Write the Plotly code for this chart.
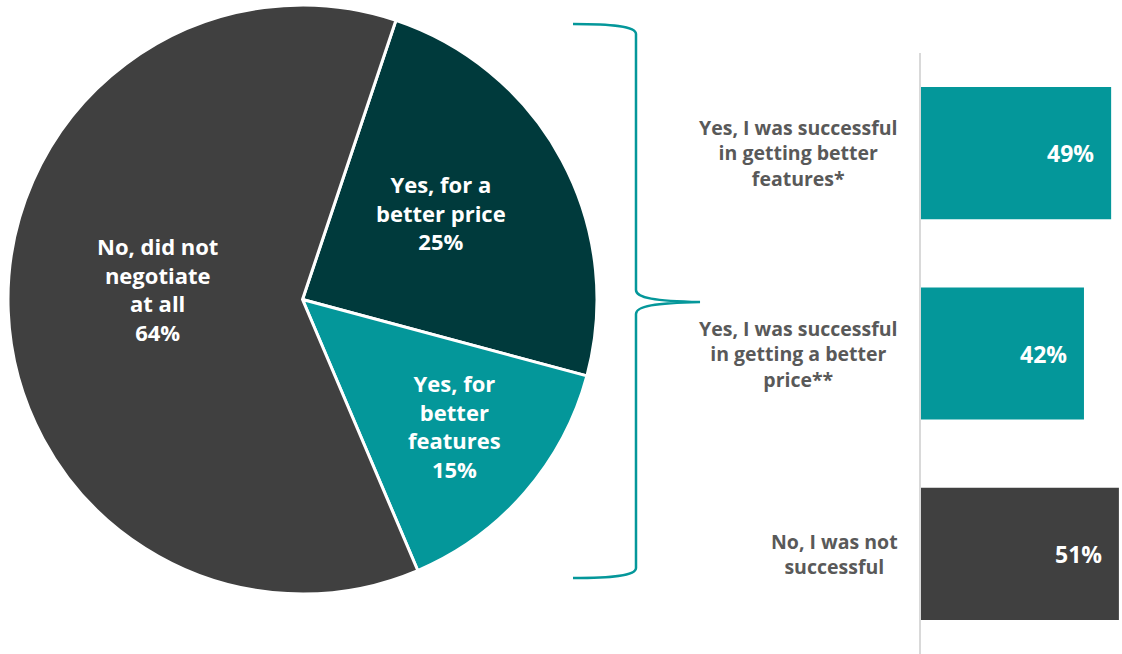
import plotly.graph_objects as go

W, H = 1122, 654

# Pie: did the respondent negotiate?
pie_labels = ["Yes, for a<br>better price", "Yes, for<br>better<br>features", "No, did not<br>negotiate<br>at all"]
pie_values = [25, 15, 64]
pie_colors = ["#003A3C", "#04979A", "#404040"]

# Bars: outcome of the negotiation
bar_categories = [
    "Yes, I was successful<br>in getting better<br>features*",
    "Yes, I was successful<br>in getting a better<br>price**",
    "No, I was not<br>successful",
]
bar_values = [49, 42, 51]
bar_colors = ["#04979A", "#04979A", "#404040"]

FONT = "Open Sans"
TEAL = "#04979A"


def px(x):
    return x / W


def py(y):
    return 1 - y / H


fig = go.Figure()

fig.add_trace(go.Pie(
    labels=pie_labels,
    values=pie_values,
    sort=False,
    direction="clockwise",
    rotation=18.5,
    marker=dict(colors=pie_colors, line=dict(color="white", width=3)),
    textinfo="none",
    hoverinfo="skip",
    showlegend=False,
    domain=dict(x=[px(8), px(597)], y=[py(596), py(3)]),
))

fig.add_trace(go.Bar(
    x=bar_values,
    y=bar_categories,
    orientation="h",
    width=0.66,
    marker=dict(color=bar_colors, line=dict(width=0)),
    hoverinfo="skip",
    showlegend=False,
))

annotations = []

# labels inside the pie slices
pie_label_pos = [(441, 212), (454, 426), (157, 289)]
for lab, val, (x, y) in zip(pie_labels, pie_values, pie_label_pos):
    annotations.append(dict(
        x=px(x), y=py(y), xref="paper", yref="paper",
        text=f"<b>{lab}<br>{val}%</b>", showarrow=False,
        xanchor="center", yanchor="middle", align="center",
        font=dict(family=FONT, size=22, color="white"),
    ))

# category labels to the left of the bars
for cat in bar_categories:
    annotations.append(dict(
        x=px(900), y=cat, xref="paper", yref="y",
        text=f"<b>{cat}</b>", showarrow=False,
        xanchor="right", yanchor="middle", align="center",
        font=dict(family=FONT, size=19.5, color="#595959"),
    ))

# value labels at the end of each bar
for cat, val in zip(bar_categories, bar_values):
    annotations.append(dict(
        x=val, y=cat, xref="x", yref="y",
        text=f"<b>{val}%</b>", showarrow=False,
        xanchor="right", yanchor="middle", xshift=-15,
        font=dict(family=FONT, size=23, color="white"),
    ))


def P(x, y):
    return f"{px(x):.5f},{py(y):.5f}"


# curly brace linking the "yes" slices to the bar chart
brace = (
    f"M {P(573, 24)} C {P(610, 24)} {P(636, 26)} {P(636, 34)} "
    f"L {P(636, 290)} C {P(636, 298)} {P(655, 301)} {P(700, 302)} "
    f"C {P(655, 303)} {P(636, 306)} {P(636, 314)} "
    f"L {P(636, 568)} C {P(636, 576)} {P(610, 578)} {P(573, 578)}"
)

fig.update_layout(
    width=W, height=H,
    margin=dict(l=0, r=0, t=0, b=0),
    paper_bgcolor="white",
    plot_bgcolor="white",
    font=dict(family=FONT),
    xaxis=dict(
        domain=[px(921), 1.0], range=[0, 51.8],
        showgrid=False, zeroline=False, showticklabels=False, showline=False,
        fixedrange=True,
    ),
    yaxis=dict(
        domain=[py(654), py(53)], range=[2.5, -0.5],
        showgrid=False, zeroline=False, showticklabels=False,
        showline=True, linecolor="#D9D9D9", linewidth=2,
        fixedrange=True,
    ),
    annotations=annotations,
    shapes=[dict(
        type="path", xref="paper", yref="paper", path=brace,
        line=dict(color=TEAL, width=2.5),
    )],
)

fig.write_html("out.html")
